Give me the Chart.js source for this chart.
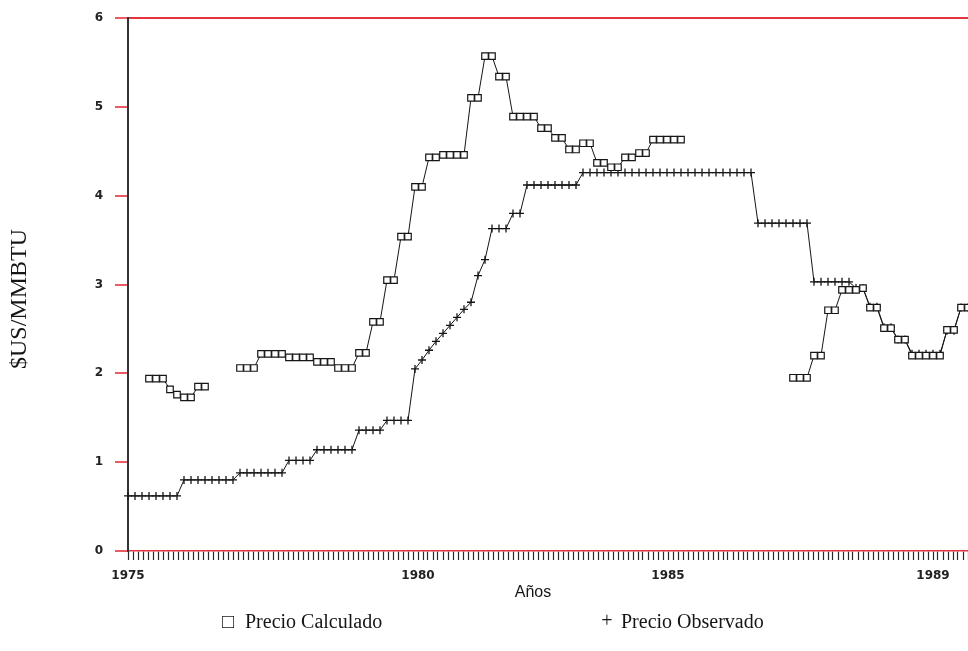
<!DOCTYPE html>
<html><head><meta charset="utf-8">
<script src="https://cdn.jsdelivr.net/npm/chart.js@4.4.1/dist/chart.umd.min.js"></script>
<style>html,body{margin:0;padding:0;background:#fff;overflow:hidden;}#wrap{width:968px;height:651px;position:relative;overflow:hidden;}canvas{display:block;}</style>
</head><body><div id="wrap"><canvas id="c"></canvas></div>
<script>
// periods (one per observation)
const periodCount = 121;
const categories = Array.from({length: periodCount}, (_, i) => 'P' + (i + 1));

const precioCalculado = [
  null, null, null, 1.94, 1.94, 1.94, 1.82, 1.76, 1.73, 1.73,
  1.85, 1.85, null, null, null, null, 2.06, 2.06, 2.06, 2.22,
  2.22, 2.22, 2.22, 2.18, 2.18, 2.18, 2.18, 2.13, 2.13, 2.13,
  2.06, 2.06, 2.06, 2.23, 2.23, 2.58, 2.58, 3.05, 3.05, 3.54,
  3.54, 4.10, 4.10, 4.43, 4.43, 4.46, 4.46, 4.46, 4.46, 5.10,
  5.10, 5.57, 5.57, 5.34, 5.34, 4.89, 4.89, 4.89, 4.89, 4.76,
  4.76, 4.65, 4.65, 4.52, 4.52, 4.59, 4.59, 4.37, 4.37, 4.32,
  4.32, 4.43, 4.43, 4.48, 4.48, 4.63, 4.63, 4.63, 4.63, 4.63,
  null, null, null, null, null, null, null, null, null, null,
  null, null, null, null, null, 1.95, 1.95, 1.95, 2.20, 2.20,
  2.71, 2.71, 2.94, 2.94, 2.94, 2.96, 2.74, 2.74, 2.51, 2.51,
  2.38, 2.38, 2.20, 2.20, 2.20, 2.20, 2.20, 2.49, 2.49, 2.74,
  2.74
];

const precioObservado = [
  0.62, 0.62, 0.62, 0.62, 0.62, 0.62, 0.62, 0.62, 0.80, 0.80,
  0.80, 0.80, 0.80, 0.80, 0.80, 0.80, 0.88, 0.88, 0.88, 0.88,
  0.88, 0.88, 0.88, 1.02, 1.02, 1.02, 1.02, 1.14, 1.14, 1.14,
  1.14, 1.14, 1.14, 1.36, 1.36, 1.36, 1.36, 1.47, 1.47, 1.47,
  1.47, 2.05, 2.15, 2.26, 2.36, 2.45, 2.54, 2.63, 2.72, 2.80,
  3.10, 3.28, 3.63, 3.63, 3.63, 3.80, 3.80, 4.12, 4.12, 4.12,
  4.12, 4.12, 4.12, 4.12, 4.12, 4.26, 4.26, 4.26, 4.26, 4.26,
  4.26, 4.26, 4.26, 4.26, 4.26, 4.26, 4.26, 4.26, 4.26, 4.26,
  4.26, 4.26, 4.26, 4.26, 4.26, 4.26, 4.26, 4.26, 4.26, 4.26,
  3.69, 3.69, 3.69, 3.69, 3.69, 3.69, 3.69, 3.69, 3.03, 3.03,
  3.03, 3.03, 3.03, 3.03, 2.96, 2.96, 2.75, 2.75, 2.52, 2.52,
  2.38, 2.38, 2.22, 2.22, 2.22, 2.22, 2.22, 2.48, 2.48, 2.74,
  2.74
];

// tick labels of the time axis (dense monthly tick marks)
const monthTickCount = 169;
const xTickLabels = ['1975', '1980', '1985', '1989'];
const xTickLabelMonth = [0, 58, 108, 161];
const yTickValues = [0, 1, 2, 3, 4, 5, 6];

const RED = '#e2333f';
const INK = '#151515';

const textPlugin = {
  id: 'texts',
  afterDraw(chart) {
    const ctx = chart.ctx;
    ctx.save();
    ctx.fillStyle = INK;
    ctx.textBaseline = 'middle';
    ctx.textAlign = 'center';
    ctx.font = '16px "Liberation Sans", Arial, sans-serif';
    ctx.fillText('Años', 533, 593);
    ctx.save();
    ctx.translate(20, 299);
    ctx.rotate(-Math.PI / 2);
    ctx.font = '24px "Liberation Serif", "Times New Roman", serif';
    ctx.fillText('$US/MMBTU', 0, 0);
    ctx.restore();
    const ds = chart.data.datasets;
    ctx.font = '20px "Liberation Serif", "Times New Roman", serif';
    ctx.textAlign = 'center';
    ctx.fillText('\u25A1', 228, 623);
    ctx.fillText('+', 607, 622);
    ctx.textAlign = 'left';
    ctx.fillText(ds[0].label, 245, 623);
    ctx.fillText(ds[1].label, 621, 623);
    ctx.restore();
  }
};

new Chart(document.getElementById('c'), {
  type: 'line',
  data: {
    labels: categories,
    datasets: [
      {
        label: 'Precio Calculado',
        data: precioCalculado,
        borderColor: INK,
        borderWidth: 1,
        tension: 0,
        spanGaps: false,
        pointStyle: 'rect',
        pointRadius: 4.6,
        pointBackgroundColor: '#ffffff',
        pointBorderColor: INK,
        pointBorderWidth: 1.2,
        xAxisID: 'x',
        yAxisID: 'y'
      },
      {
        label: 'Precio Observado',
        data: precioObservado,
        borderColor: INK,
        borderWidth: 1,
        tension: 0,
        pointStyle: 'cross',
        pointRadius: 4,
        pointBorderColor: INK,
        pointBorderWidth: 1.3,
        xAxisID: 'x',
        yAxisID: 'y'
      }
    ]
  },
  options: {
    responsive: true,
    maintainAspectRatio: false,
    animation: false,
    devicePixelRatio: 1,
    layout: { autoPadding: false, padding: { top: 18, left: 0, right: 0, bottom: 0 } },
    plugins: { legend: { display: false }, tooltip: { enabled: false } },
    scales: {
      x: { type: 'category', display: false, offset: false },
      xt: {
        type: 'linear',
        position: 'bottom',
        min: 0,
        max: periodCount - 1,
        afterBuildTicks: (axis) => {
          const t = [];
          for (let k = 0; k < monthTickCount; k++) t.push({ value: k * (periodCount - 1) / (monthTickCount - 1) });
          axis.ticks = t;
        },
        afterFit: (s) => { s.height = 100; s.paddingLeft = 0; s.paddingRight = 0; },
        grid: { drawOnChartArea: false, drawTicks: true, tickLength: 9, tickColor: '#2a2a2a', tickWidth: 1.2 },
        border: { display: true, color: RED, width: 1.6 },
        ticks: {
          autoSkip: false,
          maxRotation: 0,
          minRotation: 0,
          padding: 9,
          color: '#222',
          font: { family: 'DejaVu Sans', weight: 'bold', size: 12 },
          callback: (v, i) => {
            const k = xTickLabelMonth.indexOf(i);
            return k >= 0 ? xTickLabels[k] : '';
          }
        }
      },
      y: {
        min: 0,
        max: 6,
        afterBuildTicks: (axis) => { axis.ticks = yTickValues.map(v => ({ value: v })); },
        afterFit: (s) => { s.width = 128; s.paddingTop = 0; s.paddingBottom = 0; },
        grid: {
          drawOnChartArea: true,
          color: (c) => (c.tick && c.tick.value === 6 ? RED : 'rgba(0,0,0,0)'),
          lineWidth: 2,
          drawTicks: true,
          tickLength: 13,
          tickColor: RED,
          tickWidth: 1.6
        },
        border: { display: true, color: '#333', width: 2 },
        ticks: {
          padding: 12,
          color: '#222',
          font: { family: 'DejaVu Sans', weight: 'bold', size: 12 }
        }
      }
    }
  },
  plugins: [textPlugin]
});
</script>
</body></html>
